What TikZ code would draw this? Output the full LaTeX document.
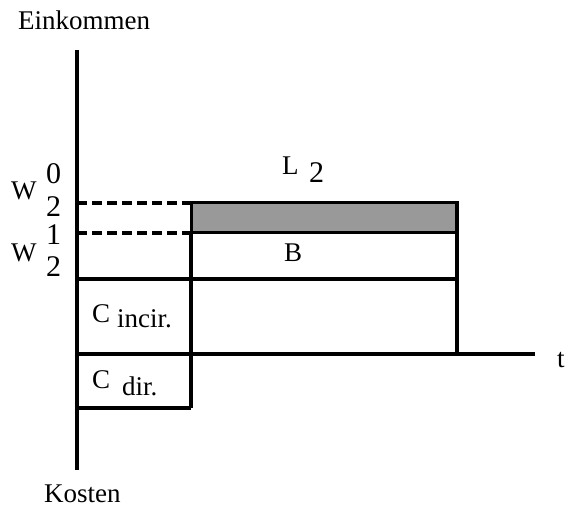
\documentclass[tikz,border=0pt]{standalone}
\usepackage{fontspec}
\setmainfont{Liberation Serif}
\usetikzlibrary{positioning}

\begin{document}
\begin{tikzpicture}[x=1pt, y=-1pt,
    lbl/.style={font=\fontsize{27}{32}\selectfont, inner sep=0pt, anchor=base west},
    dig/.style={lbl, font=\fontsize{30}{36}\selectfont},
    axis/.style={line width=4.5pt},
    bar/.style={line width=4pt},
    guide/.style={line width=3.5pt, dash pattern=on 10pt off 5pt}]
    \useasboundingbox (0,0) rectangle (575,510);

    % Axes
    \coordinate (ytop) at (77,50);
    \coordinate (ybot) at (77,470);
    \coordinate (orig) at (77,354);
    \coordinate (xend) at (535,354);
    \draw[axis] (ytop) -- (ybot);
    \draw[axis] (orig) -- (xend);

    % Corner points of the blocks
    \coordinate (w0) at (77,203);
    \coordinate (w1) at (77,233);
    \coordinate (bl) at (77,279);
    \coordinate (cd) at (77,408);
    \coordinate (t0) at (191,203);
    \coordinate (t1) at (191,233);
    \coordinate (tb) at (191,408);
    \coordinate (e0) at (457,203);
    \coordinate (e1) at (457,233);
    \coordinate (eb) at (457,279);
    \coordinate (ex) at (457,354);

    % Shaded band L_2
    \filldraw[black!40, draw=black, line width=3pt] (t0) rectangle (e1);
    \draw[bar] (e0) -- (e1);

    % Dashed guides to the axis
    \draw[guide] (w0) -- (t0);
    \draw[guide] (w1) -- (t1);

    % Block outlines
    \draw[bar] (bl) -- (eb);
    \draw[bar] (t1) -- (tb);
    \draw[bar] (e1) -- (ex);
    \draw[bar] (cd) -- (tb);

    % Axis labels
    \node[lbl] (ein) at (18,30) {Einkommen};
    \node[lbl] (kos) at (44,502) {Kosten};
    \node[lbl] (tt) at (557,367) {t};

    % Wage levels
    \node[lbl] (wa) at (11,200) {W};
    \node[dig] (wa0) at (46,184) {0};
    \node[dig] (wa2) at (46,217) {2};
    \node[dig] (wb1) at (46,245) {1};
    \node[lbl] (wb) at (11,262) {W};
    \node[dig] (wb2) at (46,277) {2};

    % Block labels
    \node[lbl] (ll) at (282,175) {L};
    \node[dig] (ll2) at (309,183) {2};
    \node[lbl] (bb) at (284,262) {B};
    \node[lbl] (ci) at (92,322) {C};
    \node[lbl] (cisub) at (117,327) {incir.};
    \node[lbl] (cdc) at (92,388) {C};
    \node[lbl] (cdsub) at (122,395) {dir.};
\end{tikzpicture}
\end{document}
